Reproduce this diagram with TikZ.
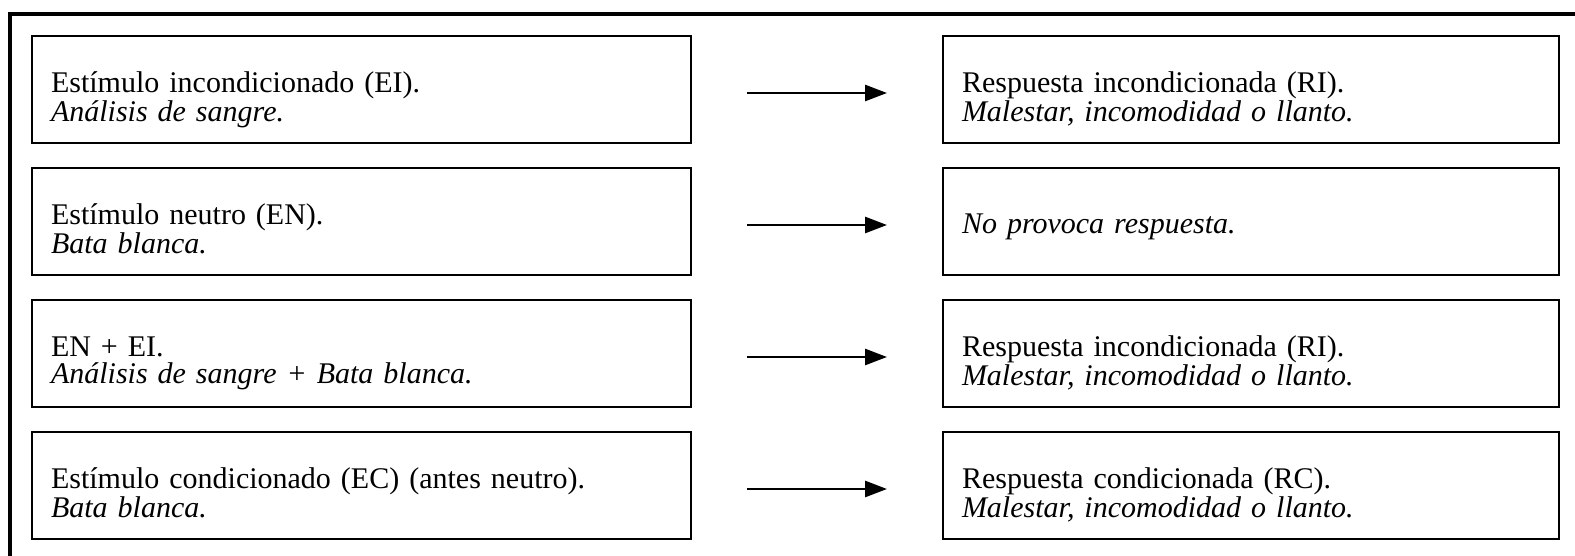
\documentclass[tikz,border=0pt]{standalone}
\usepackage{fontspec}
\setmainfont{Liberation Serif}
\usetikzlibrary{positioning,arrows.meta}

\begin{document}
\begin{tikzpicture}[x=0.5pt,y=-0.5pt,
    caja/.style={draw, line width=1.1pt, outer sep=0pt, inner xsep=9.5pt, inner ysep=0pt,
      minimum height=53.5pt, align=left, font=\fontsize{15}{13.5}\selectfont,
      text height=13.5pt, text depth=10.5pt},
    izq/.style={caja, text width=310.5pt},
    der/.style={caja, text width=289pt},
    flecha/.style={line width=1.4pt, -{Triangle[length=11pt,width=8pt]},
      shorten >=28pt, shorten <=28pt}]
  \useasboundingbox (0,0) rectangle (1575,556);
  \draw[line width=1.6pt] (10,556) -- (10,14) -- (1575,14);

  \node[izq] (ei) at (361.5,89.5) {Estímulo incondicionado (EI).\\ \textit{Análisis de sangre.}};
  \node[izq, below=12.5pt of ei] (en) {Estímulo neutro (EN).\\ \textit{Bata blanca.}};
  \node[izq, below=12.5pt of en] (enei) {EN + EI.\\ \textit{Análisis de sangre + Bata blanca.}};
  \node[izq, below=12.5pt of enei] (ec) {Estímulo condicionado (EC) (antes neutro).\\ \textit{Bata blanca.}};

  \node[der, right=126pt of ei] (ri) {Respuesta incondicionada (RI).\\ \textit{Malestar, incomodidad o llanto.}};
  \node[der, right=126pt of en, text height=12pt, text depth=0pt] (nada) {\textit{No provoca respuesta.}};
  \node[der, right=126pt of enei] (ri2) {Respuesta incondicionada (RI).\\ \textit{Malestar, incomodidad o llanto.}};
  \node[der, right=126pt of ec] (rc) {Respuesta condicionada (RC).\\ \textit{Malestar, incomodidad o llanto.}};

  \foreach \a/\b in {ei/ri,en/nada,enei/ri2,ec/rc}
    \draw[flecha] ([yshift=-1.75pt]\a.east) -- ([yshift=-1.75pt]\b.west);
\end{tikzpicture}
\end{document}
